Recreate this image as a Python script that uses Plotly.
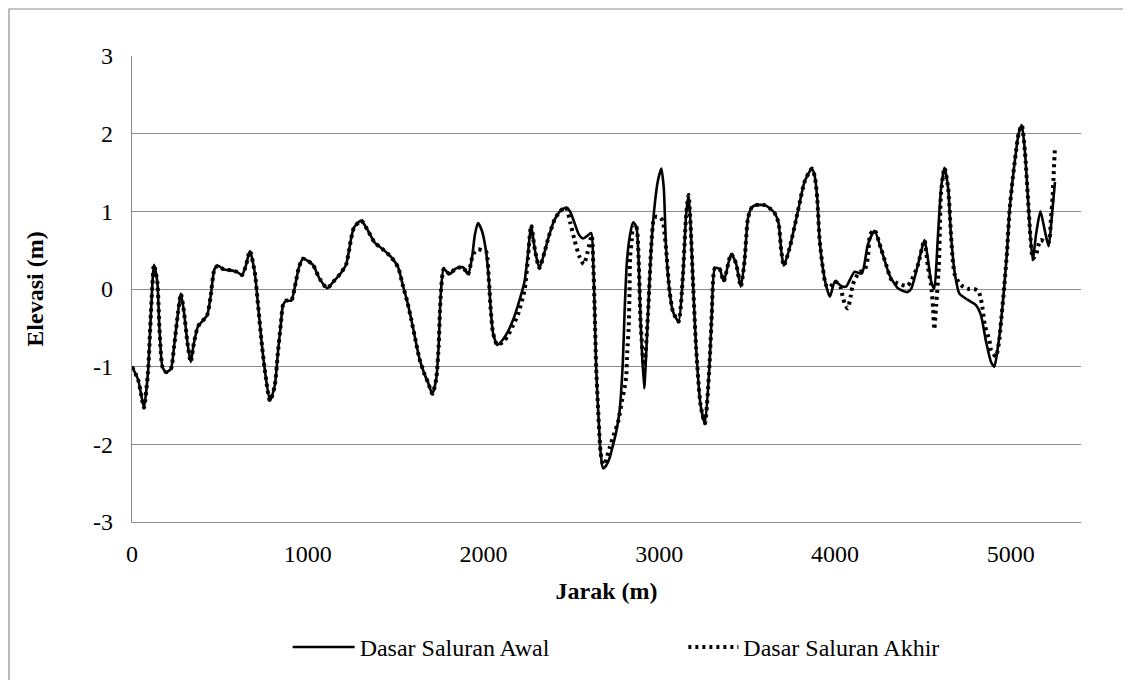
import plotly.graph_objects as go

# ---- data ----
jarak_awal = [0, 35, 53, 68, 91, 108, 125, 144, 156, 173, 193, 221, 239, 262, 278, 296, 316, 334, 352, 376,
              427, 447, 470, 490, 523, 563, 597, 626, 648, 671, 698, 717, 736, 755, 785, 812, 831, 847, 859, 878,
              906, 933, 950, 973, 1002, 1030, 1068, 1111, 1144, 1187, 1219, 1247, 1263, 1304, 1343, 1380, 1428, 1475, 1514, 1542,
              1566, 1589, 1608, 1636, 1665, 1684, 1709, 1731, 1745, 1752, 1759, 1774, 1807, 1839, 1883, 1912, 1934, 1951, 1969, 1991,
              2015, 2031, 2041, 2054, 2078, 2111, 2139, 2168, 2196, 2234, 2253, 2271, 2293, 2318, 2348, 2372, 2404, 2435, 2470, 2492,
              2518, 2543, 2566, 2588, 2613, 2625, 2632, 2641, 2651, 2666, 2680, 2696, 2717, 2737, 2755, 2774, 2793, 2803, 2816, 2834,
              2852, 2870, 2884, 2894, 2914, 2936, 2954, 2975, 2993, 3012, 3026, 3039, 3059, 3078, 3110, 3135, 3153, 3167, 3179, 3192,
              3210, 3235, 3260, 3286, 3299, 3317, 3343, 3367, 3409, 3437, 3464, 3485, 3505, 3527, 3551, 3599, 3629, 3656, 3679, 3694,
              3709, 3741, 3789, 3827, 3868, 3885, 3899, 3912, 3931, 3949, 3971, 4000, 4035, 4063, 4111, 4153, 4187, 4225, 4262, 4310,
              4358, 4411, 4433, 4472, 4509, 4528, 4547, 4565, 4585, 4604, 4623, 4644, 4660, 4682, 4708, 4756, 4803, 4831, 4860, 4888,
              4907, 4927, 4945, 4964, 4979, 4993, 5012, 5030, 5045, 5063, 5081, 5097, 5113, 5126, 5144, 5169, 5195, 5216, 5233, 5252]
elev_awal = [-1.00, -1.17, -1.37, -1.53, -1.07, -0.30, 0.31, 0.09, -0.50, -1.00, -1.07, -1.03, -0.75, -0.30, -0.06, -0.30, -0.70, -0.94, -0.70, -0.48,
             -0.34, -0.10, 0.26, 0.30, 0.25, 0.24, 0.22, 0.18, 0.30, 0.49, 0.22, -0.20, -0.65, -1.03, -1.44, -1.25, -0.80, -0.45, -0.21, -0.15,
             -0.15, 0.10, 0.28, 0.39, 0.36, 0.31, 0.13, 0.01, 0.09, 0.20, 0.32, 0.65, 0.79, 0.88, 0.75, 0.60, 0.51, 0.41, 0.28, 0.04,
             -0.16, -0.39, -0.60, -0.90, -1.10, -1.20, -1.35, -1.16, -0.73, -0.30, 0.00, 0.26, 0.19, 0.26, 0.28, 0.19, 0.39, 0.70, 0.85, 0.75,
             0.48, 0.10, -0.26, -0.56, -0.72, -0.65, -0.55, -0.40, -0.21, 0.10, 0.45, 0.82, 0.50, 0.27, 0.48, 0.68, 0.89, 1.00, 1.05, 1.00,
             0.85, 0.70, 0.65, 0.68, 0.72, 0.30, -0.21, -1.00, -1.49, -2.09, -2.31, -2.28, -2.18, -2.01, -1.84, -1.58, -0.94, -0.29, 0.35, 0.70,
             0.86, 0.80, 0.30, -0.42, -1.28, -0.33, 0.52, 1.10, 1.40, 1.55, 1.30, 0.52, -0.03, -0.29, -0.42, 0.18, 0.95, 1.21, 0.80, 0.10,
             -0.76, -1.49, -1.73, -0.98, -0.33, 0.27, 0.26, 0.10, 0.45, 0.33, 0.03, 0.35, 0.91, 1.05, 1.08, 1.08, 1.04, 0.98, 0.85, 0.50,
             0.30, 0.52, 1.00, 1.38, 1.55, 1.45, 1.17, 0.65, 0.27, 0.05, -0.10, 0.10, 0.04, 0.03, 0.22, 0.20, 0.57, 0.75, 0.52, 0.18,
             0.01, -0.04, 0.00, 0.31, 0.63, 0.40, 0.10, 0.00, 0.65, 1.30, 1.56, 1.30, 0.70, 0.20, -0.06, -0.14, -0.21, -0.34, -0.68, -0.94,
             -1.00, -0.75, -0.42, 0.05, 0.48, 1.00, 1.43, 1.77, 2.00, 2.11, 1.77, 1.21, 0.65, 0.37, 0.70, 1.00, 0.74, 0.55, 0.91, 1.38]

jarak_akhir = [0, 35, 53, 68, 91, 108, 125, 144, 156, 173, 193, 221, 239, 262, 278, 296, 316, 334, 352, 376,
               427, 447, 470, 490, 523, 563, 597, 626, 648, 671, 698, 717, 736, 755, 785, 812, 831, 847, 859, 878,
               906, 933, 950, 973, 1002, 1030, 1068, 1111, 1144, 1187, 1219, 1247, 1263, 1304, 1343, 1380, 1428, 1475, 1514, 1542,
               1566, 1589, 1608, 1636, 1665, 1684, 1709, 1731, 1745, 1752, 1759, 1774, 1807, 1839, 1883, 1912, 1934, 1951, 1969, 1991,
               2015, 2031, 2041, 2054, 2078, 2111, 2139, 2168, 2196, 2234, 2253, 2271, 2293, 2318, 2348, 2372, 2404, 2435, 2470, 2494,
               2518, 2547, 2571, 2593, 2616, 2625, 2632, 2641, 2651, 2666, 2680, 2691, 2717, 2741, 2765, 2789, 2803, 2812, 2818, 2826,
               2831, 2834, 2844, 2852, 2870, 2884, 2894, 2914, 2936, 2954, 2969, 2982, 3003, 3020, 3029, 3039, 3059, 3078, 3110, 3135,
               3153, 3167, 3179, 3192, 3210, 3235, 3260, 3286, 3299, 3317, 3343, 3367, 3409, 3437, 3464, 3485, 3505, 3527, 3551, 3599,
               3629, 3656, 3679, 3694, 3709, 3741, 3789, 3827, 3868, 3885, 3899, 3912, 3931, 3949, 3971, 4000, 4031, 4046, 4062, 4073,
               4089, 4102, 4139, 4168, 4187, 4200, 4225, 4262, 4293, 4321, 4358, 4411, 4433, 4472, 4509, 4528, 4547, 4558, 4565, 4576,
               4591, 4604, 4623, 4644, 4660, 4671, 4682, 4717, 4763, 4792, 4817, 4835, 4854, 4879, 4888, 4916, 4936, 4945, 4964, 4979,
               4993, 5012, 5030, 5045, 5063, 5081, 5097, 5113, 5126, 5144, 5169, 5195, 5216, 5229, 5239, 5245, 5252]
elev_akhir = [-1.00, -1.17, -1.37, -1.53, -1.07, -0.30, 0.31, 0.09, -0.50, -1.00, -1.07, -1.03, -0.75, -0.30, -0.06, -0.30, -0.70, -0.94, -0.70, -0.48,
              -0.34, -0.10, 0.26, 0.30, 0.25, 0.24, 0.22, 0.18, 0.30, 0.49, 0.22, -0.20, -0.65, -1.03, -1.44, -1.25, -0.80, -0.45, -0.21, -0.15,
              -0.15, 0.10, 0.28, 0.39, 0.36, 0.31, 0.13, 0.01, 0.09, 0.20, 0.32, 0.65, 0.79, 0.88, 0.75, 0.60, 0.51, 0.41, 0.28, 0.04,
              -0.16, -0.39, -0.60, -0.90, -1.10, -1.20, -1.35, -1.16, -0.73, -0.30, 0.00, 0.26, 0.19, 0.26, 0.28, 0.19, 0.39, 0.48, 0.51, 0.50,
              0.48, 0.10, -0.26, -0.56, -0.72, -0.68, -0.60, -0.47, -0.33, -0.01, 0.40, 0.82, 0.50, 0.27, 0.48, 0.68, 0.89, 1.00, 1.05, 0.85,
              0.63, 0.41, 0.32, 0.48, 0.69, 0.30, -0.21, -1.00, -1.49, -2.09, -2.26, -2.24, -2.05, -1.88, -1.72, -1.43, -1.27, -1.13, -0.81, -0.51,
              -0.03, 0.40, 0.65, 0.83, 0.80, 0.30, -0.42, -1.03, -0.33, 0.52, 0.90, 0.93, 0.92, 0.88, 0.74, 0.52, -0.03, -0.29, -0.42, 0.18,
              0.95, 1.21, 0.80, 0.10, -0.76, -1.49, -1.73, -0.98, -0.33, 0.27, 0.26, 0.10, 0.45, 0.33, 0.03, 0.35, 0.91, 1.05, 1.08, 1.08,
              1.04, 0.98, 0.85, 0.50, 0.30, 0.52, 1.00, 1.38, 1.55, 1.45, 1.17, 0.65, 0.27, 0.05, 0.02, 0.10, 0.03, -0.12, -0.22, -0.25,
              -0.10, 0.06, 0.22, 0.24, 0.40, 0.70, 0.76, 0.52, 0.30, 0.12, 0.07, 0.04, 0.10, 0.31, 0.63, 0.30, 0.05, -0.24, -0.52, -0.21,
              0.30, 1.25, 1.56, 1.30, 0.70, 0.35, 0.18, 0.05, 0.00, 0.00, -0.03, -0.18, -0.48, -0.66, -0.79, -0.87, -0.64, -0.42, 0.05, 0.48,
              1.00, 1.43, 1.77, 2.00, 2.11, 1.77, 1.21, 0.65, 0.39, 0.44, 0.63, 0.61, 0.60, 0.91, 1.20, 1.51, 1.83]

y_ticks = [3, 2, 1, 0, -1, -2, -3]
y_tick_labels = ["3", "2", "1", "0", "-1", "-2", "-3"]
x_ticks = [0, 1000, 2000, 3000, 4000, 5000]
x_tick_labels = ["0", "1000", "2000", "3000", "4000", "5000"]
x_max = 5400

W, H = 1131, 680
ML, MR, MT, MB = 124, 58, 48, 166
FONT = "Liberation Serif, Times New Roman, serif"

fig = go.Figure()
fig.add_trace(go.Scatter(
    x=jarak_awal, y=elev_awal, mode="lines", name="Dasar Saluran Awal", legend="legend",
    line=dict(color="black", width=2.6, shape="spline", smoothing=0.6),
))
fig.add_trace(go.Scatter(
    x=jarak_akhir, y=elev_akhir, mode="lines", name="Dasar Saluran Akhir", legend="legend2",
    line=dict(color="black", width=4, shape="spline", smoothing=0.6, dash="3px,4px"),
))

pw = W - ML - MR
ph = H - MT - MB
fig.add_shape(type="rect", xref="paper", yref="paper",
              x0=-(ML - 1) / pw, x1=1 + (MR - 1.5) / pw,
              y0=-(MB - 1.5) / ph, y1=1 + (MT - 1) / ph,
              line=dict(color="#8c8c8c", width=1.2), fillcolor="rgba(0,0,0,0)", layer="below")

leg_common = dict(orientation="h", xanchor="left", yanchor="middle", y=-0.269,
                  font=dict(family=FONT, size=24, color="black"), bgcolor="rgba(0,0,0,0)")

fig.update_layout(
    width=W, height=H,
    margin=dict(l=ML, r=MR, t=MT, b=MB),
    paper_bgcolor="white", plot_bgcolor="white",
    font=dict(family=FONT, color="black", size=24),
    showlegend=True,
    legend=dict(x=0.164, itemwidth=62, **leg_common),
    legend2=dict(x=0.581, itemwidth=50, **leg_common),
    xaxis=dict(range=[0, x_max], tickvals=x_ticks, ticktext=x_tick_labels,
               showgrid=False, zeroline=False, showline=True, linecolor="#8c8c8c", linewidth=1.3,
               ticks="outside", ticklen=10, tickcolor="rgba(0,0,0,0)",
               tickfont=dict(family=FONT, size=24, color="black"),
               title=dict(text="<b>Jarak (m)</b>", font=dict(family=FONT, size=24, color="black"), standoff=16)),
    yaxis=dict(range=[-3, 3], tickvals=y_ticks, ticktext=y_tick_labels,
               showgrid=True, gridcolor="#8c8c8c", gridwidth=1.3, zeroline=False,
               showline=True, linecolor="#8c8c8c", linewidth=1.3,
               ticks="outside", ticklen=13, tickcolor="rgba(0,0,0,0)",
               tickfont=dict(family=FONT, size=24, color="black"),
               title=dict(text="<b>Elevasi (m)</b>", font=dict(family=FONT, size=24, color="black"), standoff=42)),
)

fig.write_html("out.html")
